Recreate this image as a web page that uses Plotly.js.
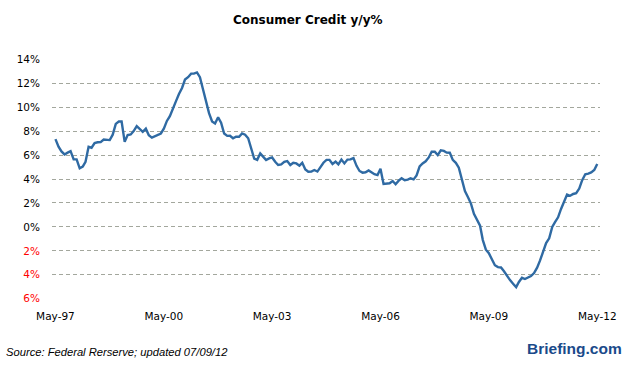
<!DOCTYPE html>
<html>
<head>
<meta charset="utf-8">
<script src="https://cdn.plot.ly/plotly-3.0.1.min.js"></script>
<style>html,body{margin:0;padding:0;background:#fff;}#chart{width:628px;height:369px;}</style>
</head>
<body>
<div id="chart"></div>
<script>
// Consumer credit, year-over-year % change, monthly from May-1997 to May-2012
const startYear = 1997, startMonth = 5;
const values = [
  7.33, 6.7, 6.3, 6.05, 6.2, 6.33, 5.64, 5.64, 4.89, 5.03,
  5.44, 6.69, 6.61, 7.0, 7.07, 7.08, 7.3, 7.28, 7.25, 7.7,
  8.6, 8.8, 8.8, 7.1, 7.67, 7.72, 8.0, 8.42, 8.14, 7.94,
  8.2, 7.65, 7.45, 7.55, 7.7, 7.8, 8.2, 8.85, 9.25, 9.95,
  10.5, 11.1, 11.6, 12.3, 12.5, 12.8, 12.8, 12.9, 12.5, 11.5,
  10.4, 9.5, 8.8, 8.64, 9.15, 8.7, 7.8, 7.6, 7.61, 7.4,
  7.53, 7.53, 7.8, 7.7, 7.4, 6.6, 5.7, 5.6, 6.14, 5.85,
  5.58, 5.72, 5.8, 5.44, 5.17, 5.22, 5.44, 5.5, 5.17, 5.36,
  5.3, 5.11, 5.35, 4.8, 4.61, 4.62, 4.75, 4.62, 5.0, 5.36,
  5.6, 5.6, 5.25, 5.45, 5.22, 5.62, 5.3, 5.62, 5.64, 5.75,
  5.1, 4.67, 4.53, 4.56, 4.72, 4.53, 4.4, 4.33, 4.85, 3.58,
  3.58, 3.64, 3.83, 3.56, 3.86, 4.06, 3.9, 3.95, 4.06, 3.97,
  4.3, 5.05, 5.3, 5.48, 5.8, 6.28, 6.28, 6.0, 6.4, 6.35,
  6.2, 6.19, 5.6, 5.35, 4.95, 4.0, 3.0, 2.5, 1.95, 1.1,
  0.65, 0.1, -1.1, -1.9, -2.2, -2.7, -3.2, -3.36, -3.39, -3.7,
  -4.1, -4.44, -4.75, -5.03, -4.6, -4.25, -4.35, -4.25, -4.1, -3.85,
  -3.4, -2.8, -2.0, -1.35, -0.95, 0.0, 0.4, 0.8, 1.5, 2.15,
  2.7, 2.6, 2.75, 2.81, 3.2, 3.9, 4.4, 4.45, 4.55, 4.75,
  5.25
];
const dates = values.map((v, i) => {
  const t = (startMonth - 1) + i;
  const y = startYear + Math.floor(t / 12);
  const m = (t % 12) + 1;
  return y + '-' + String(m).padStart(2, '0') + '-01';
});

const yTickVals = [14, 12, 10, 8, 6, 4, 2, 0, -2, -4, -6];
const yTickText = ['14%', '12%', '10%', '8%', '6%', '4%', '2%', '0%',
  '<span style="color:#ff0000">2%</span>',
  '<span style="color:#ff0000">4%</span>',
  '<span style="color:#ff0000">6%</span>'];
const xTickVals = ['1997-05-01', '2000-05-01', '2003-05-01', '2006-05-01', '2009-05-01', '2012-05-01'];
const xTickText = ['May-97', 'May-00', 'May-03', 'May-06', 'May-09', 'May-12'];

const trace = {
  x: dates, y: values, type: 'scatter', mode: 'lines',
  line: {color: '#2f6aa3', width: 2.4},
  hoverinfo: 'skip'
};

const tickFont = {family: 'DejaVu Sans, sans-serif', size: 10.5, color: '#000'};
const layout = {
  width: 628, height: 369,
  margin: {l: 52, r: 28, t: 59, b: 70},
  paper_bgcolor: '#fff', plot_bgcolor: '#fff',
  showlegend: false,
  title: {text: '<b>Consumer Credit y/y%</b>', x: 0.49, xanchor: 'center', y: 0.945, yanchor: 'middle',
    font: {family: 'DejaVu Sans, sans-serif', size: 12, color: '#000'}},
  xaxis: {
    type: 'date', range: ['1997-03-27', '2012-05-29'],
    tickmode: 'array', tickvals: xTickVals, ticktext: xTickText,
    showgrid: false, zeroline: false, showline: false, ticks: '',
    tickfont: tickFont, ticklabelstandoff: 9
  },
  yaxis: {
    range: [-6.02, 14.02], tickmode: 'array', tickvals: yTickVals, ticktext: yTickText,
    showgrid: true, gridcolor: '#a3a79d', gridwidth: 1, griddash: '4px,3px',
    zeroline: false, showline: false, ticks: '',
    tickfont: tickFont, ticklabelstandoff: 11
  },
  annotations: [
    {text: '<i>Source: Federal Rerserve; updated 07/09/12</i>', xref: 'paper', yref: 'paper',
     x: -0.087, y: -0.222, xanchor: 'left', yanchor: 'middle', showarrow: false,
     font: {family: 'Liberation Sans, sans-serif', size: 11.2, color: '#000'}},
    {text: '<b>Briefing.com</b>', xref: 'paper', yref: 'paper',
     x: 1.043, y: -0.208, xanchor: 'right', yanchor: 'middle', showarrow: false,
     font: {family: 'Liberation Sans, sans-serif', size: 15.5, color: '#1a4a8a'}}
  ]
};

Plotly.newPlot('chart', [trace], layout, {displayModeBar: false, staticPlot: true});
</script>
</body>
</html>
